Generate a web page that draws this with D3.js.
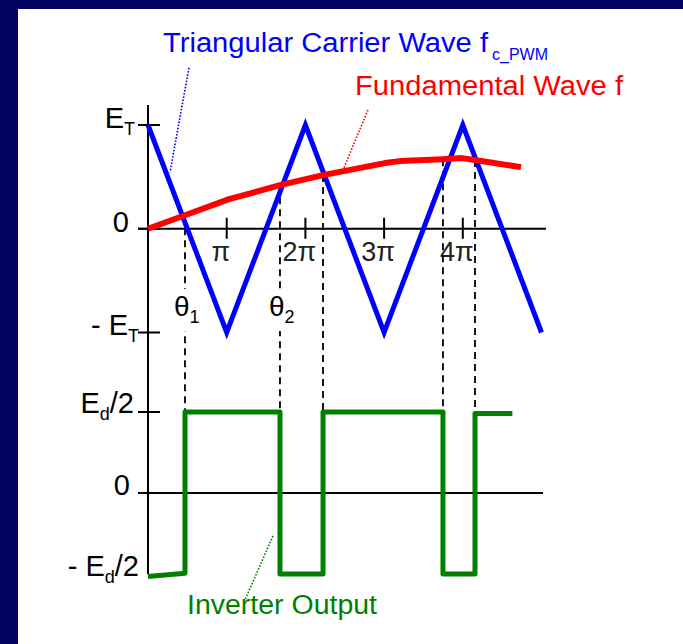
<!DOCTYPE html>
<html>
<head>
<meta charset="utf-8">
<script src="https://cdn.jsdelivr.net/npm/d3@7"></script>
<style>
html,body{margin:0;padding:0;background:#fff;}
svg{display:block;}
text{font-family:"Liberation Sans",Arial,sans-serif;}
</style>
</head>
<body>
<svg id="chart" width="683" height="644"></svg>
<script>
// ---------- data ----------
const carrierX = [0, 1, 2, 3, 4, 5];            // in units of π
const carrierY = [1, -1, 1, -1, 1, -1];         // in units of E_T
const fundX = [0, 0.47, 1.03, 1.677, 2.224, 3.01, 3.2, 3.748, 3.99, 4.155, 4.74];
const fundY = [0, 0.13, 0.285, 0.42, 0.517, 0.633, 0.652, 0.671, 0.681, 0.662, 0.594];
const switchAngles = [0.47, 1.677, 2.224, 3.748, 4.155];
const dashTops = [0.12, 0.42, 0.517, 0.671, 0.662];
const outX = [0, 0.47, 0.47, 1.677, 1.677, 2.224, 2.224, 3.748, 3.748, 4.155, 4.155, 4.63];
const outY = [-1.03, -0.99, 1, 1, -1, -1, 1, 1, -1, -1, 0.98, 0.98]; // in units of E_d/2
const piTicks = [1, 2, 3, 4];
const piLabels = ["π", "2π", "3π", "4π"];
const topTicks = [1, 0, -1];
const botTicks = [1, 0];
const thetaAt = [0.47, 1.677];
const thetaLabels = ["1", "2"];

// ---------- layout ----------
const svg = d3.select("#chart");
const x = d3.scaleLinear().domain([0, 5]).range([148, 541.5]);
const yT = d3.scaleLinear().domain([-1, 1]).range([332.5, 125]);
const yB = d3.scaleLinear().domain([-1, 1]).range([574, 412]);

svg.append("rect").attr("width", 683).attr("height", 644).attr("fill", "#02025f");
svg.append("rect").attr("x", 18).attr("y", 9).attr("width", 665).attr("height", 635).attr("fill", "#fff");

const FS = 29;
// titles
const t1 = svg.append("text").attr("x", 163).attr("y", 52).attr("fill", "#0000ff").attr("font-size", 27);
t1.append("tspan").text("Triangular Carrier Wave f").attr("textLength", 325).attr("lengthAdjust", "spacingAndGlyphs");
t1.append("tspan").text("c_PWM").attr("font-size", 16).attr("dx", 4).attr("dy", 8);
svg.append("text").attr("x", 355).attr("y", 95).attr("fill", "#ff0000").attr("font-size", 27)
  .attr("textLength", 268).attr("lengthAdjust", "spacingAndGlyphs").text("Fundamental Wave f");
svg.append("text").attr("x", 187).attr("y", 614).attr("fill", "#008000").attr("font-size", 27)
  .attr("textLength", 190).attr("lengthAdjust", "spacingAndGlyphs").text("Inverter Output");

// leader lines (dotted), given in data coordinates
const leaders = [
  {s: yT, p: [[0.52, 1.55], [0.28, 0.545]], c: "#0000ff"},
  {s: yT, p: [[2.795, 1.145], [2.478, 0.566]], c: "#ff0000"},
  {s: yB, p: [[1.588, -0.53], [1.232, -1.32]], c: "#008000"}
];
leaders.forEach(l => {
  svg.append("line")
    .attr("x1", x(l.p[0][0])).attr("y1", l.s(l.p[0][1]))
    .attr("x2", x(l.p[1][0])).attr("y2", l.s(l.p[1][1]))
    .attr("stroke", l.c).attr("stroke-width", 1.6).attr("stroke-dasharray", "1.6,1.6");
});

// axes
svg.append("line").attr("x1", x(0)).attr("x2", x(0)).attr("y1", 105).attr("y2", yB(-1)).attr("stroke", "#000").attr("stroke-width", 2);
svg.append("line").attr("x1", 138).attr("x2", 546).attr("y1", yT(0)).attr("y2", yT(0)).attr("stroke", "#000").attr("stroke-width", 2);
svg.append("line").attr("x1", 138).attr("x2", 543).attr("y1", yB(0)).attr("y2", yB(0)).attr("stroke", "#000").attr("stroke-width", 2);
topTicks.forEach(v => svg.append("line").attr("x1", 138).attr("x2", 160).attr("y1", yT(v)).attr("y2", yT(v)).attr("stroke", "#000").attr("stroke-width", 2));
botTicks.forEach(v => svg.append("line").attr("x1", 138).attr("x2", 160).attr("y1", yB(v)).attr("y2", yB(v)).attr("stroke", "#000").attr("stroke-width", 2));
piTicks.forEach((v, i) => {
  svg.append("line").attr("x1", x(v)).attr("x2", x(v)).attr("y1", yT(0) - 11).attr("y2", yT(0) + 10).attr("stroke", "#000").attr("stroke-width", 2);
  svg.append("text").attr("x", x(v) - 6).attr("y", 261).attr("text-anchor", "middle")
    .attr("font-family", i === 3 ? "Liberation Sans, Arial, sans-serif" : "Liberation Serif, Times New Roman, serif")
    .attr("font-size", 27).attr("fill", "#222").text(piLabels[i]);
});

// y labels
function ylab(xEnd, yv, parts) {
  const t = svg.append("text").attr("x", xEnd).attr("y", yv).attr("text-anchor", "end").attr("font-size", FS).attr("fill", "#000");
  parts.forEach(p => {
    const s = t.append("tspan").text(p.t);
    if (p.sub) s.attr("font-size", 18).attr("dy", 7);
    if (p.up) s.attr("dy", -7);
  });
}
ylab(135, yT(1) + 3, [{t: "E"}, {t: "T", sub: true}]);
ylab(129, yT(0) + 3, [{t: "0"}]);
ylab(139, yT(-1) + 2, [{t: "- E"}, {t: "T", sub: true}]);
ylab(134, yB(1) + 1, [{t: "E"}, {t: "d", sub: true}, {t: "/2", up: true}]);
ylab(130, yB(0) + 2, [{t: "0"}]);
ylab(139, yB(-1) + 2, [{t: "- E"}, {t: "d", sub: true}, {t: "/2", up: true}]);

// dashed projection lines
switchAngles.forEach((a, i) => {
  svg.append("line").attr("x1", x(a)).attr("x2", x(a)).attr("y1", yT(dashTops[i])).attr("y2", yB(1))
    .attr("stroke", "#000").attr("stroke-width", 1.8).attr("stroke-dasharray", "7,5");
});

// theta labels with white backing
thetaAt.forEach((a, i) => {
  const g = svg.append("g");
  const t = g.append("text").attr("x", x(a) - 11).attr("y", 316).attr("font-size", 28).attr("fill", "#000");
  t.append("tspan").text("θ");
  t.append("tspan").text(thetaLabels[i]).attr("font-size", 18).attr("dy", 7);
  const b = t.node().getBBox();
  g.insert("rect", "text").attr("x", b.x).attr("y", b.y - 2).attr("width", b.width).attr("height", b.height + 6).attr("fill", "#fff");
});

// carrier
const carrier = carrierX.map((v, i) => [v, carrierY[i]]);
svg.append("path").attr("d", d3.line().x(d => x(d[0])).y(d => yT(d[1]))(carrier))
  .attr("fill", "none").attr("stroke", "#0000ff").attr("stroke-width", 5).attr("stroke-linejoin", "miter");

// fundamental
const fund = fundX.map((v, i) => [v, fundY[i]]);
svg.append("path").attr("d", d3.line().x(d => x(d[0])).y(d => yT(d[1]))(fund))
  .attr("fill", "none").attr("stroke", "#ff0000").attr("stroke-width", 6).attr("stroke-linejoin", "round");

// inverter output
const out = outX.map((v, i) => [v, outY[i]]);
svg.append("path").attr("d", d3.line().x(d => x(d[0])).y(d => yB(d[1]))(out))
  .attr("fill", "none").attr("stroke", "#008000").attr("stroke-width", 5).attr("stroke-linejoin", "round");
</script>
</body>
</html>
